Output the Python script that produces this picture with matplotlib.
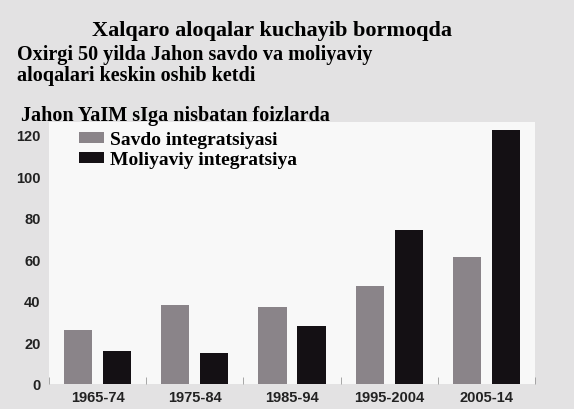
import matplotlib
matplotlib.use("Agg")
import matplotlib.pyplot as plt
import numpy as np

periods = ["1965-74", "1975-84", "1985-94", "1995-2004", "2005-14"]
savdo = [26, 38, 37, 47, 61]
moliya = [16, 15, 28, 74, 122]
yticks = [0, 20, 40, 60, 80, 100, 120]

fig = plt.figure(figsize=(5.74, 4.10), dpi=100)
fig.patch.set_facecolor("#e3e2e3")
ax = fig.add_axes([0.0854, 0.061, 0.8467, 0.639])
ax.set_facecolor("#f8f8f8")

x = np.arange(len(periods))
w = 0.29
ax.bar(x - 0.2, savdo, w, color="#8a8489", label="Savdo integratsiyasi")
ax.bar(x + 0.2, moliya, w, color="#141014", label="Moliyaviy integratsiya")

ax.set_xlim(-0.5, 4.5)
ax.set_ylim(0, 126)
ax.set_yticks(yticks)
ax.set_yticklabels([str(t) for t in yticks], fontsize=10.5, fontweight="bold",
                   family="Liberation Sans", color="#222222")
ax.set_xticks(x)
ax.set_xticklabels(periods, fontsize=10.5, fontweight="bold",
                   family="Liberation Sans", color="#222222")
ax.set_xticks(np.arange(-0.5, 5, 1), minor=True)
ax.tick_params(axis="both", which="major", length=0)
ax.tick_params(axis="y", pad=6)
ax.tick_params(axis="x", pad=4)
ax.tick_params(axis="x", which="minor", direction="in", length=5, color="#999999")
for s in ax.spines.values():
    s.set_visible(False)

leg = ax.legend(loc="upper left", bbox_to_anchor=(0.045, 0.995), frameon=False,
                prop={"family": "Liberation Serif", "weight": "bold", "size": 14},
                handlelength=1.3, handleheight=0.5, handletextpad=0.3,
                labelspacing=0.15, borderaxespad=0)

fig.text(0.473, 0.924, "Xalqaro aloqalar kuchayib bormoqda", ha="center", va="center",
         family="Liberation Serif", fontweight="bold", fontsize=16)
fig.text(0.03, 0.866, "Oxirgi 50 yilda Jahon savdo va moliyaviy", ha="left", va="center",
         family="Liberation Serif", fontweight="bold", fontsize=14.5)
fig.text(0.03, 0.815, "aloqalari keskin oshib ketdi", ha="left", va="center",
         family="Liberation Serif", fontweight="bold", fontsize=14.5)
fig.text(0.037, 0.717, "Jahon YaIM sIga nisbatan foizlarda", ha="left", va="center",
         family="Liberation Serif", fontweight="bold", fontsize=14.5)

fig.savefig("out.png", dpi=100, facecolor=fig.get_facecolor())
